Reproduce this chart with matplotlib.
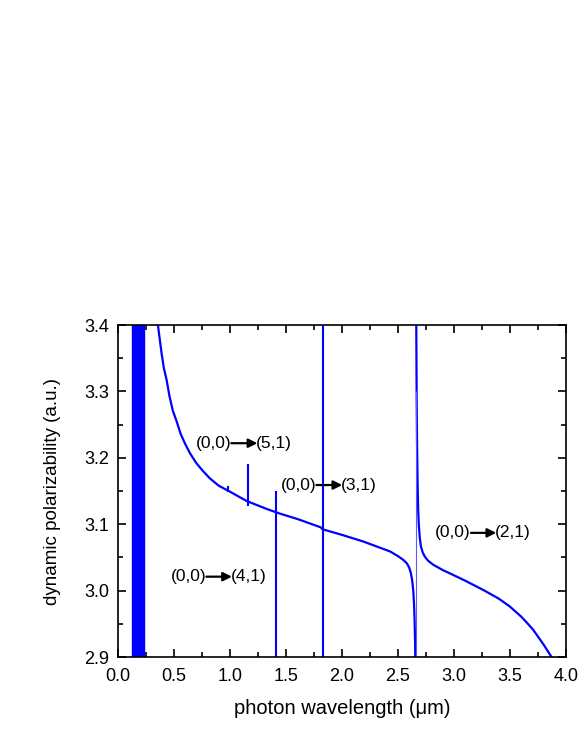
import numpy as np
import matplotlib
matplotlib.use('Agg')
import matplotlib.pyplot as plt
from matplotlib.ticker import MultipleLocator, FormatStrFormatter

plt.rcParams['font.family'] = ['Liberation Sans', 'DejaVu Sans']

# main curve, left of the (0,0)->(2,1) pole
x_left = [0.357, 0.37, 0.39, 0.41, 0.435, 0.46, 0.49, 0.524, 0.56, 0.60, 0.643,
          0.70, 0.76, 0.821, 0.90, 1.00, 1.149, 1.328, 1.446, 1.60, 1.75, 1.815,
          1.822, 1.835, 2.00, 2.19, 2.43, 2.50, 2.55, 2.58, 2.60, 2.615, 2.627,
          2.637, 2.644, 2.649, 2.653, 2.655]
y_left = [3.400, 3.383, 3.357, 3.335, 3.317, 3.293, 3.271, 3.255, 3.236, 3.221, 3.207,
          3.192, 3.180, 3.169, 3.158, 3.149, 3.135, 3.123, 3.116, 3.108, 3.099, 3.095,
          3.093, 3.092, 3.084, 3.074, 3.059, 3.052, 3.046, 3.041, 3.035, 3.027, 3.016,
          3.000, 2.980, 2.955, 2.925, 2.900]

# main curve, right of the pole
x_right = [2.664, 2.667, 2.671, 2.676, 2.681, 2.687, 2.695, 2.705, 2.72, 2.741, 2.77,
           2.815, 2.90, 2.964, 3.10, 3.262, 3.40, 3.50, 3.60, 3.65, 3.708, 3.75,
           3.80, 3.83, 3.872]
y_right = [3.40, 3.30, 3.22, 3.16, 3.121, 3.098, 3.080, 3.067, 3.058, 3.051, 3.045,
           3.039, 3.031, 3.026, 3.015, 3.001, 2.988, 2.976, 2.961, 2.952, 2.941, 2.931,
           2.919, 2.911, 2.900]

# narrow resonances: position, lower end, upper end
res_x = [0.985, 1.161, 1.411, 1.827]
res_lo = [3.149, 3.127, 2.900, 2.900]
res_hi = [3.157, 3.191, 3.150, 3.400]

# dense resonances in the UV
uv_x = [0.130, 0.136, 0.142, 0.148, 0.154, 0.160, 0.166, 0.172, 0.178, 0.184,
        0.190, 0.196, 0.202, 0.208, 0.214, 0.224, 0.230, 0.236]

# transition labels
trans_from = ['(0,0)', '(0,0)', '(0,0)', '(0,0)']
trans_to = ['(5,1)', '(4,1)', '(3,1)', '(2,1)']

fig = plt.figure(figsize=(5.81, 7.52), dpi=100)
ax = fig.add_axes([0.203, 0.1263, 0.771, 0.4415])

ax.vlines(uv_x, 2.9, 3.4, color='blue', lw=1.6)
ax.plot(x_left, y_left, color='blue', lw=1.6)
ax.plot(x_right, y_right, color='blue', lw=1.6)
ax.vlines(res_x, res_lo, res_hi, color='blue', lw=1.5)
ax.vlines([2.658], 2.9, 3.3, color='#5a5aff', lw=0.8)

# label positions (left edge of "(0,0)", y, arrow start, arrow end)
lab_pos = [(0.696, 3.222, 1.012, 1.245),
           (0.470, 3.021, 0.790, 1.018),
           (1.455, 3.159, 1.772, 2.003),
           (2.830, 3.087, 3.152, 3.378)]
for a, b, (x0, y0, xa, xb) in zip(trans_from, trans_to, lab_pos):
    ax.text(x0, y0, a, fontsize=12.5, ha='left', va='center')
    ax.annotate('', xy=(xb, y0), xytext=(xa, y0),
                arrowprops=dict(arrowstyle='-|>', color='black', lw=1.6,
                                mutation_scale=13, shrinkA=0, shrinkB=0))
    ax.text(xb - 0.01, y0, b, fontsize=12.5, ha='left', va='center')

ax.set_xlim(0.0, 4.0)
ax.set_ylim(2.9, 3.4)
ax.xaxis.set_major_locator(MultipleLocator(0.5))
ax.xaxis.set_minor_locator(MultipleLocator(0.25))
ax.yaxis.set_major_locator(MultipleLocator(0.1))
ax.yaxis.set_minor_locator(MultipleLocator(0.05))
ax.xaxis.set_major_formatter(FormatStrFormatter('%.1f'))
ax.yaxis.set_major_formatter(FormatStrFormatter('%.1f'))
ax.tick_params(which='both', direction='in', top=True, right=True,
               labelsize=13, width=1.2)
ax.tick_params(axis='x', which='both', pad=8)
ax.tick_params(axis='y', which='both', pad=6)
ax.tick_params(which='major', length=6)
ax.tick_params(which='minor', length=3.5)
for s in ax.spines.values():
    s.set_linewidth(1.2)

ax.set_xlabel('photon wavelength (\u03bcm)', fontsize=14.5, labelpad=10)
ax.set_ylabel('dynamic polarizability (a.u.)', fontsize=13.5, labelpad=17)

fig.savefig('out.png', dpi=100)
